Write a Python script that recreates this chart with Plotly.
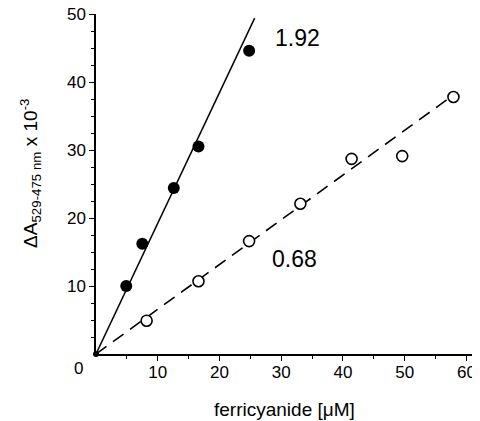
import plotly.graph_objects as go

# filled circles
filled_x = [0, 4.9, 7.5, 12.6, 16.6, 24.8]
filled_y = [0, 10.0, 16.2, 24.4, 30.5, 44.6]
# open circles
open_x = [8.2, 16.6, 24.8, 33.1, 41.4, 49.6, 57.9]
open_y = [4.9, 10.7, 16.6, 22.1, 28.7, 29.1, 37.8]
# fitted lines (start, end)
solid_x = [0, 25.7]
solid_y = [0, 49.4]
dashed_x = [0, 57.3]
dashed_y = [0, 37.7]
slope_labels = ["1.92", "0.68"]
slope_label_x = [32.7, 32.2]
slope_label_y = [46.5, 13.9]

y_tickvals = [10, 20, 30, 40, 50]
y_minor_ticks = [2.5, 5, 7.5, 12.5, 15, 17.5, 22.5, 25, 27.5, 32.5, 35, 37.5, 42.5, 45, 47.5]
x_tickvals = [10, 20, 30, 40, 50, 60]
x_minor_ticks = [5, 15, 25, 35, 45, 55]
x_max = 62.2

font = "Liberation Sans, Arial, sans-serif"

fig = go.Figure()
fig.add_trace(go.Scatter(x=solid_x, y=solid_y, mode="lines",
                         line=dict(color="black", width=1.5), hoverinfo="skip"))
fig.add_trace(go.Scatter(x=dashed_x, y=dashed_y, mode="lines",
                         line=dict(color="black", width=1.6, dash="13px,8px"), hoverinfo="skip"))
fig.add_trace(go.Scatter(x=open_x, y=open_y, mode="markers",
                         marker=dict(symbol="circle", size=11, color="white",
                                     line=dict(color="black", width=1.6)),
                         cliponaxis=False))
fig.add_trace(go.Scatter(x=filled_x[1:], y=filled_y[1:], mode="markers",
                         marker=dict(symbol="circle", size=12, color="black"),
                         cliponaxis=False))
fig.add_trace(go.Scatter(x=filled_x[:1], y=filled_y[:1], mode="markers",
                         marker=dict(symbol="circle", size=6, color="black"),
                         cliponaxis=False))

for t, x, y in zip(slope_labels, slope_label_x, slope_label_y):
    fig.add_annotation(x=x, y=y, text=t, showarrow=False, xref="x", yref="y",
                       xanchor="center", yanchor="middle",
                       font=dict(size=23, color="black", family=font))

# corner zero label
fig.add_annotation(x=-2.9 / x_max, y=0, xref="paper", yref="paper", text="0", showarrow=False,
                   xanchor="center", yanchor="middle",
                   yshift=-14, font=dict(size=17, color="black", family=font))
# axis titles
fig.add_annotation(x=0.492, y=-0.162, xref="paper", yref="paper",
                   xanchor="center", yanchor="middle",
                   text="ferricyanide [μM]", showarrow=False,
                   font=dict(size=19, color="black", family=font))
fig.add_annotation(x=-0.169, y=0.53, xref="paper", yref="paper", textangle=-90,
                   xanchor="center", yanchor="middle",
                   text="ΔA<sub>529-475 nm</sub> x 10<sup>-3</sup>", showarrow=False,
                   font=dict(size=19, color="black", family=font))

# page body has an 8px default margin; size the figure to fit the window
fig.update_layout(
    width=472, height=413,
    margin=dict(l=88, r=0, t=6, b=67),
    paper_bgcolor="white", plot_bgcolor="white",
    showlegend=False,
    font=dict(family=font, color="black", size=17),
    xaxis=dict(range=[0, x_max], tickmode="array", tickvals=x_tickvals,
               ticks="outside", ticklen=5, tickwidth=1.2, tickcolor="black",
               showline=True, linecolor="black", linewidth=1.5,
               showgrid=False, zeroline=False, automargin=False,
               ticklabeloverflow="allow", ticklabelstandoff=-3,
               minor=dict(tickmode="array", tickvals=x_minor_ticks, ticks="outside",
                          ticklen=3, tickwidth=1.2, tickcolor="black", showgrid=False),
               tickfont=dict(size=17)),
    yaxis=dict(range=[0, 50], tickmode="array", tickvals=y_tickvals,
               ticks="outside", ticklen=5, tickwidth=1.2, tickcolor="black",
               showline=True, linecolor="black", linewidth=1.5,
               showgrid=False, zeroline=False, automargin=False,
               ticklabeloverflow="allow",
               minor=dict(tickmode="array", tickvals=y_minor_ticks, ticks="outside",
                          ticklen=3, tickwidth=1.2, tickcolor="black", showgrid=False),
               tickfont=dict(size=17)),
)

fig.write_html("out.html")
